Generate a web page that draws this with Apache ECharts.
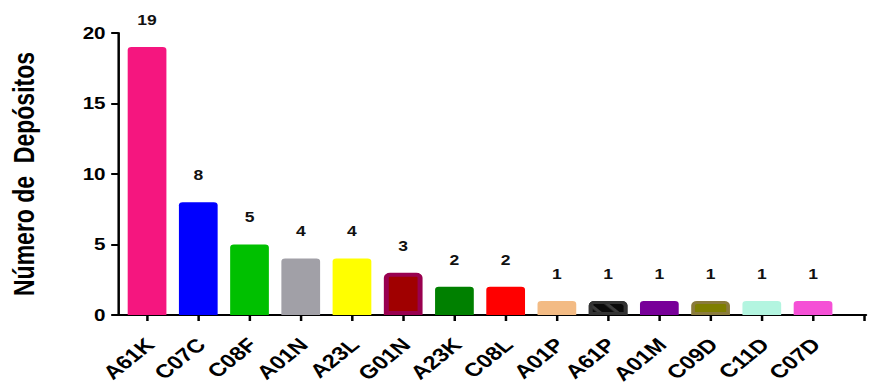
<!DOCTYPE html>
<html>
<head>
<meta charset="utf-8">
<script src="https://cdn.jsdelivr.net/npm/echarts@6/dist/echarts.min.js"></script>
<style>
  html, body { margin: 0; padding: 0; background: #fff; overflow: hidden; }
  /* the chart is laid out narrow and widened horizontally to the page width */
  #chart { width: 706px; height: 385px; transform: scaleX(1.24929); transform-origin: 0 0; }
</style>
</head>
<body>
<div id="chart"></div>
<script>
// IPC subclasses and number of deposits
const categories = ['A61K', 'C07C', 'C08F', 'A01N', 'A23L', 'G01N', 'A23K', 'C08L', 'A01P', 'A61P', 'A01M', 'C09D', 'C11D', 'C07D'];
const deposits   = [19, 8, 5, 4, 4, 3, 2, 2, 1, 1, 1, 1, 1, 1];
const fillColors = ['#F5167F', '#0000FF', '#00C000', '#A1A0A7', '#FFFF00', '#A00000', '#008000', '#FF0000', '#F3BB84', '#0A0A0A', '#780099', '#7F7F00', '#B3F5E0', '#F550D6'];
const yTicks = [0, 5, 10, 15, 20];

// per-bar outlines for the bars drawn with a frame
const outlines = {
  'G01N': { color: '#99004F', width: 4 },
  'A61P': { color: '#333333', width: 3 },
  'C09D': { color: '#8A7B3C', width: 3 }
};

// bar slots along the x axis: first slot offset from the y axis, one unit per category
const slotOffset = 0.566;
const slots = categories.map((c, i) => i + slotOffset);
const tickSlots = slots.concat([categories.length + slotOffset]);
// small horizontal nudge of the rotated category names relative to their tick
const labelShift = -0.1;
const labelSlots = slots.map(s => s + labelShift);

const barData = categories.map((c, i) => {
  const item = {
    value: [slots[i], deposits[i]],
    itemStyle: { color: fillColors[i] }
  };
  if (outlines[c]) {
    item.itemStyle.borderColor = outlines[c].color;
    item.itemStyle.borderWidth = outlines[c].width;
  }
  if (c === 'A61P') {
    item.itemStyle.decal = {
      color: '#3c3c3c',
      symbol: 'rect',
      dashArrayX: [1, 0],
      dashArrayY: [3, 7],
      rotation: Math.PI / 4
    };
  }
  return item;
});

const font = 'Liberation Sans, Arial, sans-serif';
const chart = echarts.init(document.getElementById('chart'), null, { renderer: 'svg' });

chart.setOption({
  animation: false,
  grid: { left: 94.5, right: 12.8, top: 33, bottom: 70, outerBoundsMode: 'none' },
  xAxis: {
    type: 'value',
    min: 0,
    max: 14.6,
    splitLine: { show: false },
    axisLine: { show: true, onZero: false, lineStyle: { color: '#000', width: 2 } },
    axisTick: { show: true, customValues: tickSlots, length: 6, lineStyle: { color: '#000', width: 2 } },
    axisLabel: {
      customValues: labelSlots,
      rotate: 45,
      margin: 20,
      align: 'right',
      verticalAlign: 'top',
      color: '#000',
      fontFamily: font,
      fontWeight: 'bold',
      fontSize: 19,
      formatter: v => {
        const idx = labelSlots.findIndex(s => Math.abs(s - v) < 1e-6);
        return idx >= 0 ? categories[idx] : '';
      }
    }
  },
  yAxis: {
    type: 'value',
    min: yTicks[0],
    max: yTicks[yTicks.length - 1],
    interval: 5,
    name: 'Número de  Depósitos',
    nameLocation: 'middle',
    nameGap: 64,
    nameTextStyle: { color: '#000', fontFamily: font, fontWeight: 'bold', fontSize: 23 },
    splitLine: { show: false },
    axisLine: { show: true, lineStyle: { color: '#000', width: 2 } },
    axisTick: { show: true, length: 5.5, lineStyle: { color: '#000', width: 2 } },
    axisLabel: { margin: 10, color: '#000', fontFamily: font, fontWeight: 'bold', fontSize: 16.5 }
  },
  series: [{
    type: 'bar',
    barWidth: 31,
    data: barData,
    itemStyle: { borderRadius: [3, 3, 0, 0] },
    label: {
      show: true,
      position: 'top',
      distance: 20,
      color: '#111',
      fontFamily: font,
      fontWeight: 'bold',
      fontSize: 14,
      formatter: p => String(p.value[1])
    }
  }]
});
</script>
</body>
</html>
